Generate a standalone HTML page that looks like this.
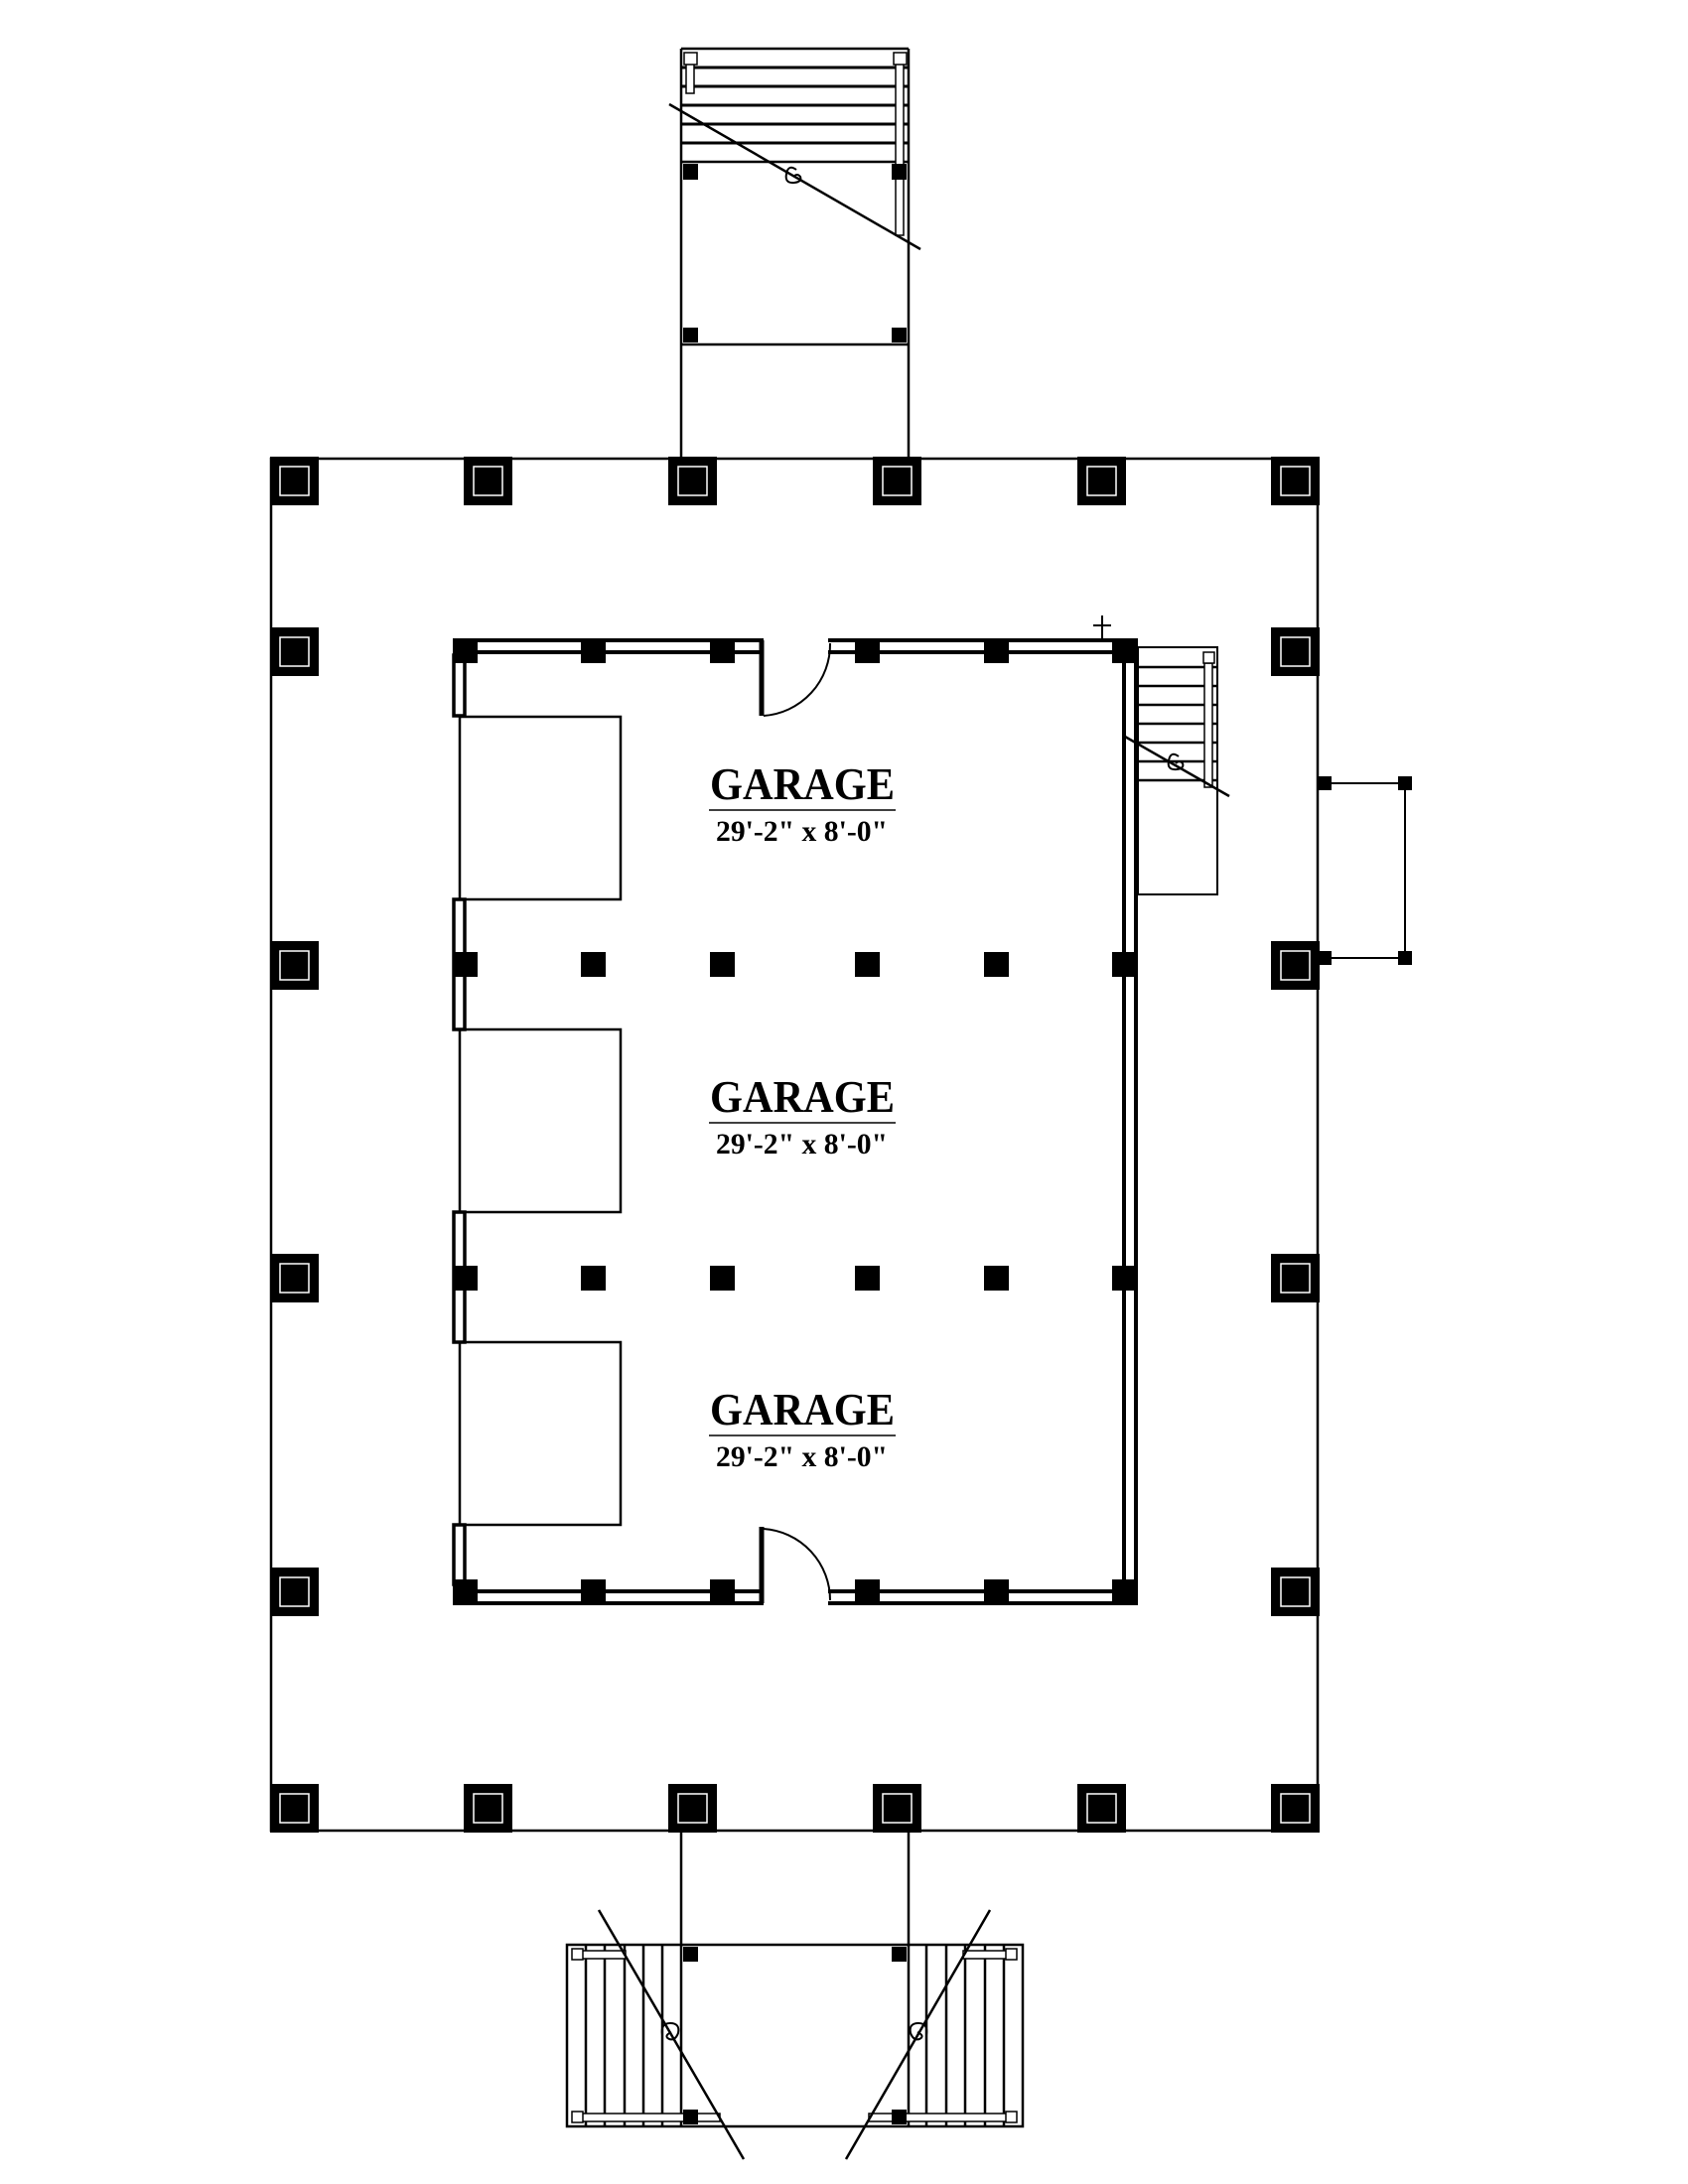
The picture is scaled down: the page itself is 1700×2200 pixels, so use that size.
<!DOCTYPE html>
<html><head><meta charset="utf-8"><style>html,body{margin:0;padding:0;background:#fff}svg{display:block}</style></head>
<body>
<svg width="1700" height="2200" viewBox="0 0 1700 2200" xmlns="http://www.w3.org/2000/svg">
<rect width="1700" height="2200" fill="#fff"/>
<g fill="none" stroke="#000">
<line x1="686" y1="49" x2="686" y2="462" stroke-width="2.5"/>
<line x1="915" y1="49" x2="915" y2="462" stroke-width="2.5"/>
<line x1="686" y1="49" x2="915" y2="49" stroke-width="2.5"/>
<line x1="686" y1="163" x2="915" y2="163" stroke-width="2.5"/>
<line x1="686" y1="347" x2="915" y2="347" stroke-width="2.5"/>
<g stroke-width="3"><line x1="686" y1="68" x2="915" y2="68"/><line x1="686" y1="87" x2="915" y2="87"/><line x1="686" y1="106" x2="915" y2="106"/><line x1="686" y1="125" x2="915" y2="125"/><line x1="686" y1="144" x2="915" y2="144"/></g>
<rect x="691" y="64" width="8" height="30" fill="#fff" stroke-width="1.5"/>
<rect x="902" y="64" width="8" height="173" fill="#fff" stroke-width="1.5"/>
<rect x="689" y="53" width="13" height="12" fill="#fff" stroke-width="1.5"/>
<rect x="900" y="53" width="13" height="12" fill="#fff" stroke-width="1.5"/>
<line x1="674" y1="105" x2="927" y2="251" stroke-width="2.5"/>
<path d="M802 171 q-8 -6 -10 4 q-2 10 8 9 q8 -1 6 -6 q-3 -4 -7 0" stroke-width="2"/>
<rect x="273" y="462" width="1054" height="1382" stroke-width="2.5"/>
<line x1="1327" y1="789" x2="1420" y2="789" stroke-width="2"/>
<line x1="1327" y1="965" x2="1420" y2="965" stroke-width="2"/>
<line x1="1415" y1="789" x2="1415" y2="965" stroke-width="2"/>
<line x1="456" y1="645" x2="769" y2="645" stroke-width="4"/>
<line x1="456" y1="657" x2="769" y2="657" stroke-width="4"/>
<line x1="834" y1="645" x2="1146" y2="645" stroke-width="4"/>
<line x1="834" y1="657" x2="1133" y2="657" stroke-width="4"/>
<line x1="456" y1="1615" x2="769" y2="1615" stroke-width="4"/>
<line x1="456" y1="1603" x2="769" y2="1603" stroke-width="4"/>
<line x1="834" y1="1615" x2="1146" y2="1615" stroke-width="4"/>
<line x1="834" y1="1603" x2="1133" y2="1603" stroke-width="4"/>
<line x1="1144" y1="645" x2="1144" y2="1615" stroke-width="4"/>
<line x1="1132" y1="657" x2="1132" y2="1603" stroke-width="4"/>
<line x1="767" y1="645" x2="767" y2="721" stroke-width="5"/>
<path d="M769 721 A72 72 0 0 0 836 648" stroke-width="2"/>
<line x1="767" y1="1615" x2="767" y2="1538" stroke-width="5"/>
<path d="M769 1540 A72 72 0 0 1 836 1612" stroke-width="2"/>
<g stroke-width="3.5" fill="#fff"><rect x="457" y="660" width="11" height="61"/><rect x="457" y="906" width="11" height="131"/><rect x="457" y="1221" width="11" height="131"/><rect x="457" y="1536" width="11" height="60"/></g>
<g stroke-width="2.5"><rect x="463" y="722" width="162" height="184"/><rect x="463" y="1037" width="162" height="184"/><rect x="463" y="1352" width="162" height="184"/></g>
<rect x="1146" y="652" width="80" height="249" stroke-width="2"/>
<g stroke-width="2.5"><line x1="1146" y1="672" x2="1226" y2="672"/><line x1="1146" y1="691" x2="1226" y2="691"/><line x1="1146" y1="710" x2="1226" y2="710"/><line x1="1146" y1="729" x2="1226" y2="729"/><line x1="1146" y1="748" x2="1226" y2="748"/><line x1="1146" y1="767" x2="1226" y2="767"/><line x1="1146" y1="786" x2="1226" y2="786"/></g>
<rect x="1213" y="668" width="8" height="125" fill="#fff" stroke-width="1.5"/>
<rect x="1212" y="657" width="11" height="11" fill="#fff" stroke-width="1.5"/>
<line x1="1133" y1="742" x2="1238" y2="802" stroke-width="2.5"/>
<path d="M1187 762 q-8 -6 -10 4 q-2 10 8 9 q8 -1 6 -6 q-3 -4 -7 0" stroke-width="2"/>
<line x1="1110" y1="620" x2="1110" y2="643" stroke-width="2"/><line x1="1101" y1="630" x2="1119" y2="630" stroke-width="2"/>
<line x1="686" y1="1844" x2="686" y2="2142" stroke-width="2.5"/>
<line x1="915" y1="1844" x2="915" y2="2142" stroke-width="2.5"/>
<rect x="571" y="1959" width="459" height="183" stroke-width="2.5"/>
<g stroke-width="2.5"><line x1="590" y1="1959" x2="590" y2="2142"/><line x1="609" y1="1959" x2="609" y2="2142"/><line x1="629" y1="1959" x2="629" y2="2142"/><line x1="648" y1="1959" x2="648" y2="2142"/><line x1="667" y1="1959" x2="667" y2="2142"/>
<line x1="933" y1="1959" x2="933" y2="2142"/><line x1="953" y1="1959" x2="953" y2="2142"/><line x1="972" y1="1959" x2="972" y2="2142"/><line x1="992" y1="1959" x2="992" y2="2142"/><line x1="1011" y1="1959" x2="1011" y2="2142"/></g>
<rect x="586" y="1965" width="44" height="8" fill="#fff" stroke-width="1.5"/>
<rect x="586" y="2129" width="139" height="8" fill="#fff" stroke-width="1.5"/>
<rect x="970" y="1965" width="44" height="8" fill="#fff" stroke-width="1.5"/>
<rect x="875" y="2129" width="139" height="8" fill="#fff" stroke-width="1.5"/>
<g fill="#fff" stroke-width="1.5"><rect x="576" y="1963" width="11" height="11"/><rect x="576" y="2127" width="11" height="11"/><rect x="1013" y="1963" width="11" height="11"/><rect x="1013" y="2127" width="11" height="11"/></g>
<line x1="603" y1="1924" x2="749" y2="2175" stroke-width="2.5"/>
<line x1="997" y1="1924" x2="852" y2="2175" stroke-width="2.5"/>
<path d="M667 2050 q-2 -12 8 -12 q10 0 8 10 q-3 8 -9 6 q-6 -3 2 -7" stroke-width="2"/>
<path d="M933 2050 q2 -12 -8 -12 q-10 0 -8 10 q3 8 9 6 q6 -3 -2 -7" stroke-width="2"/>
</g>
<g fill="#000">
<rect x="688" y="165" width="15" height="16"/><rect x="898" y="165" width="15" height="16"/>
<rect x="688" y="330" width="15" height="15"/><rect x="898" y="330" width="15" height="15"/>
<rect x="688" y="1961" width="15" height="15"/><rect x="898" y="1961" width="15" height="15"/>
<rect x="688" y="2125" width="15" height="15"/><rect x="898" y="2125" width="15" height="15"/>
<rect x="1327" y="782" width="14" height="14"/><rect x="1408" y="782" width="14" height="14"/>
<rect x="1327" y="958" width="14" height="14"/><rect x="1408" y="958" width="14" height="14"/>
<rect x="456" y="643" width="25" height="25"/><rect x="585" y="643" width="25" height="25"/><rect x="715" y="643" width="25" height="25"/><rect x="861" y="643" width="25" height="25"/><rect x="991" y="643" width="25" height="25"/><rect x="1120" y="643" width="26" height="25"/>
<rect x="456" y="959" width="25" height="25"/><rect x="585" y="959" width="25" height="25"/><rect x="715" y="959" width="25" height="25"/><rect x="861" y="959" width="25" height="25"/><rect x="991" y="959" width="25" height="25"/><rect x="1120" y="959" width="26" height="25"/>
<rect x="456" y="1275" width="25" height="25"/><rect x="585" y="1275" width="25" height="25"/><rect x="715" y="1275" width="25" height="25"/><rect x="861" y="1275" width="25" height="25"/><rect x="991" y="1275" width="25" height="25"/><rect x="1120" y="1275" width="26" height="25"/>
<rect x="456" y="1591" width="25" height="26"/><rect x="585" y="1591" width="25" height="26"/><rect x="715" y="1591" width="25" height="26"/><rect x="861" y="1591" width="25" height="26"/><rect x="991" y="1591" width="25" height="26"/><rect x="1120" y="1591" width="26" height="26"/>
</g>
<defs><g id="col"><rect width="49" height="49" fill="#000"/><rect x="10" y="10" width="29" height="29" fill="none" stroke="#fff" stroke-width="1.5"/></g></defs>
<g>
<use href="#col" x="272" y="460"/><use href="#col" x="467" y="460"/><use href="#col" x="673" y="460"/><use href="#col" x="879" y="460"/><use href="#col" x="1085" y="460"/><use href="#col" x="1280" y="460"/>
<use href="#col" x="272" y="1797"/><use href="#col" x="467" y="1797"/><use href="#col" x="673" y="1797"/><use href="#col" x="879" y="1797"/><use href="#col" x="1085" y="1797"/><use href="#col" x="1280" y="1797"/>
<use href="#col" x="272" y="632"/><use href="#col" x="272" y="948"/><use href="#col" x="272" y="1263"/><use href="#col" x="272" y="1579"/>
<use href="#col" x="1280" y="632"/><use href="#col" x="1280" y="948"/><use href="#col" x="1280" y="1263"/><use href="#col" x="1280" y="1579"/>
</g>
<g font-family="'Liberation Serif', serif" fill="#000">
<text x="715" y="805" font-size="46" font-weight="bold" textLength="186" lengthAdjust="spacingAndGlyphs">GARAGE</text>
<line x1="714" y1="816" x2="902" y2="816" stroke="#000" stroke-width="1.5"/>
<text x="721" y="847" font-size="30" font-weight="bold" textLength="173" lengthAdjust="spacingAndGlyphs">29'-2" x 8'-0"</text>
<text x="715" y="1120" font-size="46" font-weight="bold" textLength="186" lengthAdjust="spacingAndGlyphs">GARAGE</text>
<line x1="714" y1="1131" x2="902" y2="1131" stroke="#000" stroke-width="1.5"/>
<text x="721" y="1162" font-size="30" font-weight="bold" textLength="173" lengthAdjust="spacingAndGlyphs">29'-2" x 8'-0"</text>
<text x="715" y="1435" font-size="46" font-weight="bold" textLength="186" lengthAdjust="spacingAndGlyphs">GARAGE</text>
<line x1="714" y1="1446" x2="902" y2="1446" stroke="#000" stroke-width="1.5"/>
<text x="721" y="1477" font-size="30" font-weight="bold" textLength="173" lengthAdjust="spacingAndGlyphs">29'-2" x 8'-0"</text>
</g>
</svg>
</body></html>
